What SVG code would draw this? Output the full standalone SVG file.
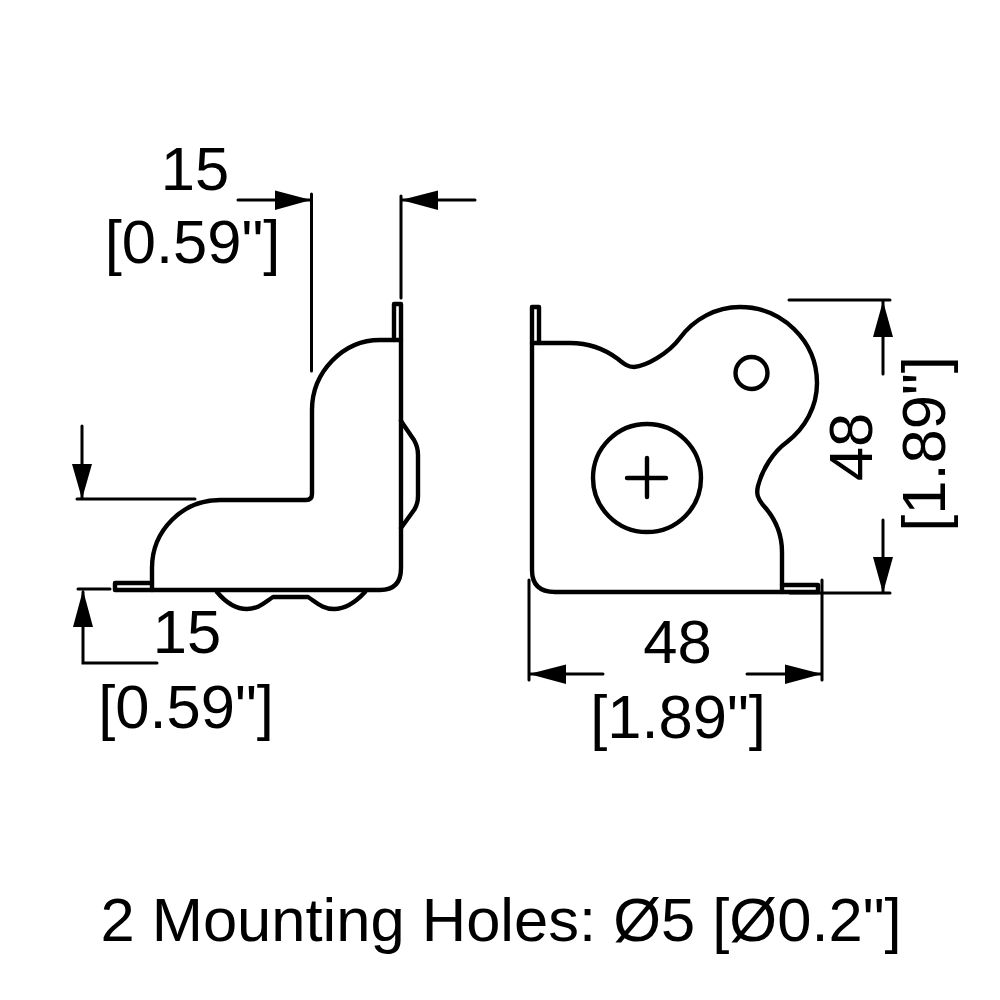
<svg xmlns="http://www.w3.org/2000/svg" width="1000" height="1000" viewBox="0 0 1000 1000">
<style>
.l{fill:none;stroke:#000;stroke-width:4.4;stroke-linecap:round;stroke-linejoin:round}
.d{fill:none;stroke:#000;stroke-width:3;stroke-linecap:round}
.a{fill:#000;stroke:none}
text{font-family:"Liberation Sans",Arial,sans-serif;font-size:61.500px;fill:#000}
</style>
<rect width="1000" height="1000" fill="#fff"/>
<g id="side-view">
<path class="l" d="M401 420V568Q401 590 380 590H152V568C152 530 183 500 220 500H306Q312 500 312 494V410C312 372 343 340 380 340H401"/>
<path class="l" d="M152 583H115V590H152M394 340V304H401V340M401 340V420"/>
<path class="l" d="M401 421L414 440Q418 447 418 455V496Q418 504 414 510L401 528"/>
<path class="l" d="M217 592C227 604 236 609 247 609C258 609 264 603 273 597H308C317 603 323 609 334 609C345 609 354 604 365 592"/>
</g>
<g id="front-view">
<path class="l" d="M532 343H570C590 343 606 350 618 359C624 364 628 367 634 367C646 366 668 354 680 338C694 319 716 307 740 307C782 307 817 341 817 383C817 407 805 428 787 442C773 452 762 470 758 486C756 494 758 499 763 505C775 518 782 534 782 552V592H555Q532 592 532 570V343"/>
<path class="l" d="M532 343V307H539V343M782 585H818V592H782"/>
<circle class="l" cx="647" cy="478" r="54"/>
<circle class="l" cx="751.500" cy="373" r="16"/>
<path class="l" d="M627 478H666M647 458V497"/>
</g>
<g id="dimensions">
<path class="d" d="M238 200H311M311.500 194V371M401 196V298M401 200H475M82 426V499M77 499H195M78 589H110M83 592V663H157M789 300H890M883 301V374M883 520V592M790 593H890M529 580V680M822 580V680M529 674H603M822 674H747"/>
<path class="a" d="M311 200L275 190.500V210ZM401 200L438 190.500V210ZM82 499L72 464H92ZM83 590L73 627H93ZM883 301L873 337H893ZM883 593L873 557H893ZM529 674L566 664.500V684ZM822 674L785 664.500V684Z"/>
</g>
<g id="labels">
<text x="195" y="190" text-anchor="middle">15</text>
<text x="192.500" y="263" text-anchor="middle">[0.59"]</text>
<text x="187" y="653" text-anchor="middle">15</text>
<text x="186" y="728" text-anchor="middle">[0.59"]</text>
<text x="677.500" y="663" text-anchor="middle">48</text>
<text x="678" y="738" text-anchor="middle">[1.89"]</text>
<text transform="translate(872 447) rotate(-90)" text-anchor="middle">48</text>
<text transform="translate(945 444) rotate(-90)" text-anchor="middle">[1.89"]</text>
<text x="501" y="941" text-anchor="middle">2 Mounting Holes: Ø5 [Ø0.2"]</text>
</g>
</svg>
